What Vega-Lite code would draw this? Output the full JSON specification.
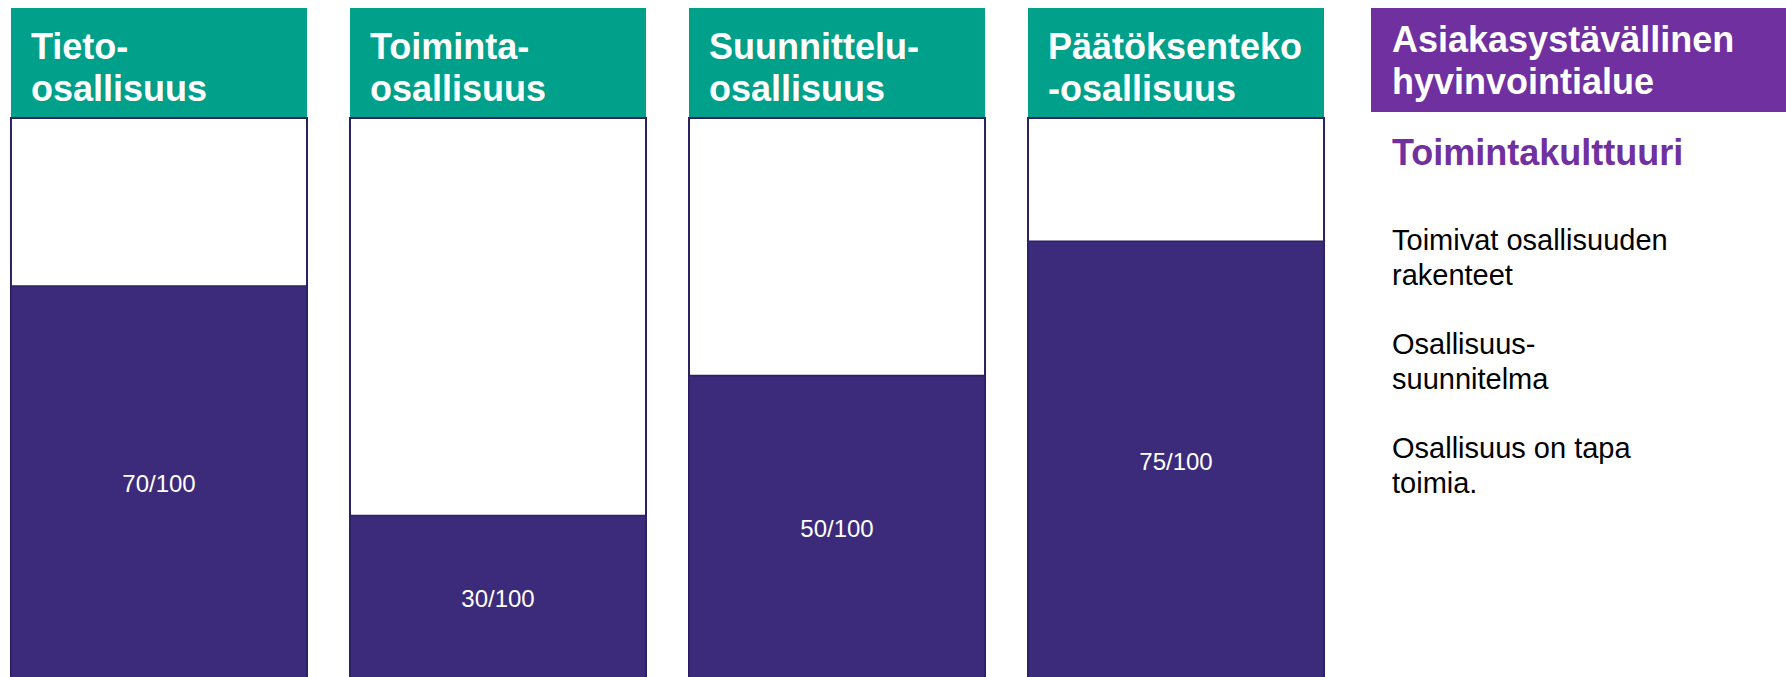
{
  "$schema": "https://vega.github.io/schema/vega-lite/v6.json",
  "background": "white",
  "padding": {"left": 0, "top": 8, "right": 0, "bottom": 0},
  "config": {
    "view": {"stroke": null},
    "font": "Liberation Sans",
    "text": {"font": "Liberation Sans"}
  },
  "datasets": {
    "pillars": [
      {"pillar": "Tieto", "header": "Tieto-\nosallisuus", "level": 70, "label": "70/100"},
      {"pillar": "Toiminta", "header": "Toiminta-\nosallisuus", "level": 29, "label": "30/100"},
      {"pillar": "Suunnittelu", "header": "Suunnittelu-\nosallisuus", "level": 54, "label": "50/100"},
      {"pillar": "Päätöksenteko", "header": "Päätöksenteko\n-osallisuus", "level": 78, "label": "75/100"}
    ],
    "panel": [
      {"panel": "Asiakasystävällinen hyvinvointialue", "title": "Asiakasystävällinen\nhyvinvointialue"}
    ],
    "culture": [
      {"panel": "Asiakasystävällinen hyvinvointialue", "row": "r0", "kind": "heading", "text": "Toimintakulttuuri"},
      {"panel": "Asiakasystävällinen hyvinvointialue", "row": "r1", "kind": "body", "text": "Toimivat osallisuuden\nrakenteet"},
      {"panel": "Asiakasystävällinen hyvinvointialue", "row": "r2", "kind": "body", "text": "Osallisuus-\nsuunnitelma"},
      {"panel": "Asiakasystävällinen hyvinvointialue", "row": "r3", "kind": "body", "text": "Osallisuus on tapa\ntoimia."}
    ]
  },
  "spacing": 36,
  "hconcat": [
    {
      "spacing": 0,
      "vconcat": [
        {
          "width": 1335,
          "height": 109,
          "data": {"name": "pillars"},
          "encoding": {
            "x": {"field": "pillar", "type": "nominal", "sort": null, "scale": {"type": "band", "paddingInner": 0.1268, "paddingOuter": 0.0324}, "axis": null}
          },
          "layer": [
            {"mark": {"type": "bar", "fill": "#00A08A"}},
            {
              "mark": {"type": "text", "align": "left", "baseline": "middle", "dx": 20, "dy": -15, "fontSize": 36, "fontWeight": "bold", "fill": "white", "lineBreak": "\n", "lineHeight": 42},
              "encoding": {
                "x": {"field": "pillar", "type": "nominal", "sort": null, "bandPosition": 0, "axis": null},
                "text": {"field": "header"}
              }
            }
          ]
        },
        {
          "width": 1335,
          "height": 560,
          "data": {"name": "pillars"},
          "encoding": {
            "x": {"field": "pillar", "type": "nominal", "sort": null, "scale": {"type": "band", "paddingInner": 0.1268, "paddingOuter": 0.0324}, "axis": null}
          },
          "layer": [
            {"mark": {"type": "bar", "fill": "white", "stroke": "#2B2262", "strokeWidth": 2}},
            {
              "mark": {"type": "bar", "fill": "#3C2A7A", "stroke": "#2B2262", "strokeWidth": 1.5},
              "encoding": {
                "y": {"field": "level", "type": "quantitative", "scale": {"domain": [0, 100], "nice": false}, "axis": null}
              }
            },
            {
              "mark": {"type": "text", "fill": "white", "fontSize": 24, "baseline": "middle", "dy": 3},
              "encoding": {
                "y": {"field": "level", "type": "quantitative", "scale": {"domain": [0, 200], "nice": false}, "axis": null},
                "text": {"field": "label"}
              }
            }
          ],
          "resolve": {"scale": {"y": "independent"}}
        }
      ]
    },
    {
      "spacing": 5,
      "vconcat": [
        {
          "width": 415,
          "height": 104,
          "view": {"fill": "#7030A0", "stroke": null},
          "data": {"name": "panel"},
          "mark": {"type": "text", "align": "left", "baseline": "middle", "dx": 21, "dy": -19, "fontSize": 36, "fontWeight": "bold", "fill": "white", "lineBreak": "\n", "lineHeight": 42},
          "encoding": {
            "x": {"field": "panel", "type": "nominal", "bandPosition": 0, "scale": {"type": "band", "paddingInner": 0, "paddingOuter": 0}, "axis": null},
            "text": {"field": "title"}
          }
        },
        {
          "width": 415,
          "height": 386,
          "data": {"name": "culture"},
          "encoding": {
            "x": {"field": "panel", "type": "nominal", "bandPosition": 0, "scale": {"type": "band", "paddingInner": 0, "paddingOuter": 0}, "axis": null},
            "y": {"field": "row", "type": "ordinal", "scale": {"type": "point", "padding": 0.356, "domain": ["r0", "r1", "r2", "r3"]}, "axis": null},
            "text": {"field": "text"}
          },
          "layer": [
            {
              "transform": [{"filter": "datum.kind === 'heading'"}],
              "mark": {"type": "text", "align": "left", "baseline": "middle", "dx": 21, "fontSize": 36, "fontWeight": "bold", "fill": "#7030A0"}
            },
            {
              "transform": [{"filter": "datum.kind === 'body'"}],
              "mark": {"type": "text", "align": "left", "baseline": "middle", "dx": 21, "dy": -17, "fontSize": 29, "fill": "#000000", "lineBreak": "\n", "lineHeight": 35}
            }
          ]
        }
      ]
    }
  ]
}
